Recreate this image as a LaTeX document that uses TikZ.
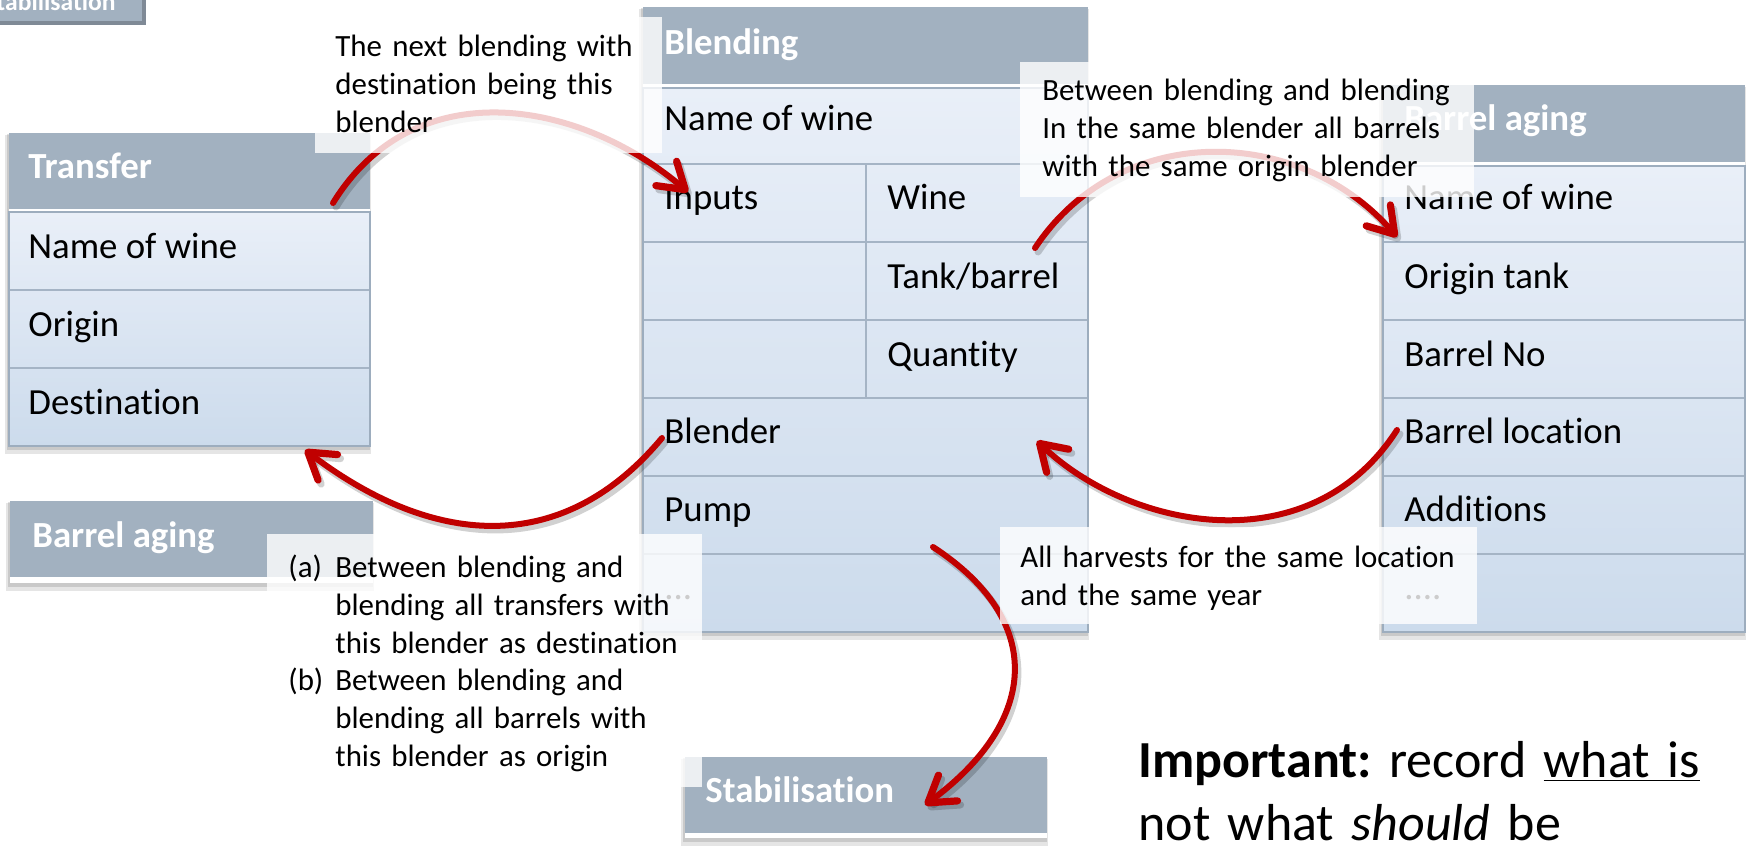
\documentclass[tikz,border=0pt]{standalone}
\usepackage{fontspec}
\setmainfont{Carlito}[Ligatures={NoCommon}]
\usetikzlibrary{arrows.meta}
\definecolor{titlegrey}{HTML}{A2B1C0}
\definecolor{darkedge}{HTML}{7F8A96}
\definecolor{rowtop}{HTML}{E9EFF8}
\definecolor{rowbot}{HTML}{CCDBEC}
\definecolor{gridline}{HTML}{A5B4C5}
\definecolor{boxborder}{HTML}{9DADBE}
\definecolor{arrowred}{HTML}{C00000}
\newcommand\rsArrowPaths[1]{%
  \draw[#1] (a1s) .. controls +(82,-133) and +(-108,-92) .. (a1e);
  \draw[#1] (a2s) .. controls +(-102,122) and +(125,95) .. (a2e);
  \draw[#1] (a3s) .. controls +(85,-128) and +(-97,-112) .. (a3e);
  \draw[#1] (a4s) .. controls +(-87,135) and +(93,89) .. (a4e);
  \draw[#1] (a5s) .. controls +(112,73) and +(115,-85) .. (a5e);
}
\begin{document}
\frenchspacing
\begin{tikzpicture}[x=0.5pt,y=-0.5pt,
  cell/.style={anchor=base west, inner sep=0pt, font=\fontsize{18.4}{22}\selectfont},
  ttl/.style={anchor=base west, inner sep=0pt, text=white, font=\fontsize{18.4}{22}\selectfont\bfseries},
  lbl/.style={anchor=base west, inner sep=0pt, align=left, text width=230pt, font=\fontsize{15.45}{19}\selectfont},
  veil/.style={fill=white, opacity=0.8},
  redarrow/.style={draw=arrowred, line width=3pt, line cap=round,
    -{Straight Barb[length=12.5pt, width=16pt, line width=3.6pt, round]}},
  arrowshadow/.style={draw=black, opacity=0.18, line width=3.5pt, line cap=round,
    -{Straight Barb[length=12.5pt, width=16pt, line width=3.6pt, round]}},
]
\useasboundingbox (0,0) rectangle (1749,850);
\fill[white] (0,0) rectangle (1749,850);

% ---- soft shadows of the boxes
\foreach \a/\b/\c/\d in {10/501/373/583, 685/757/1047/838, 9/133/370/446, 643/7/1088/632, 1383/85/1745/632}{
  \fill[black,opacity=0.10] (\a-4,\b+2) rectangle (\c+1,\d+8);
  \fill[black,opacity=0.12] (\a-2,\b+1) rectangle (\c,\d+4);
}

% ---- top-left cut-off box
\fill[titlegrey] (-20,-20) rectangle (146,25);
\draw[darkedge, line width=2pt] (144,-20) -- (144,23) -- (-20,23);
\node[ttl, anchor=base east, font=\fontsize{12.8}{14}\selectfont\bfseries] (stabtop) at (116,11) {Stabilisation};

% ---- Transfer table
\fill[titlegrey] (9,133) rectangle (370,209);
\fill[white] (9,209) rectangle (370,212);
\shade[top color=rowtop, bottom color=rowbot] (9,212) rectangle (370,446);
\draw[gridline, line width=0.8pt] (9,290) -- (370,290) (9,368) -- (370,368);
\draw[boxborder, line width=0.6pt] (9,212) rectangle (370,446);
\node[ttl]  (trT) at (28,179) {Transfer};
\node[cell] (trN) at (28,258) {Name of wine};
\node[cell] (trO) at (28,336) {Origin};
\node[cell] (trD) at (28,414) {Destination};

% ---- left Barrel aging
\fill[titlegrey] (10,501) rectangle (373,577);
\fill[white] (10,577) rectangle (373,583);
\node[ttl] (baL) at (32,547) {Barrel aging};

% ---- Stabilisation (bottom)
\fill[titlegrey] (685,757) rectangle (1047,833);
\fill[white] (685,833) rectangle (1047,838);
\node[ttl] (stab) at (705,802) {Stabilisation};

% ---- Blending table
\fill[titlegrey] (643,7) rectangle (1088,84);
\fill[white] (643,84) rectangle (1088,88);
\shade[top color=rowtop, bottom color=rowbot] (643,88) rectangle (1088,632);
\draw[gridline, line width=0.8pt] (643,164) -- (1088,164) (643,242) -- (1088,242)
  (643,320) -- (1088,320) (643,398) -- (1088,398) (643,476) -- (1088,476)
  (643,554) -- (1088,554) (866,164) -- (866,398);
\draw[boxborder, line width=0.6pt] (643,88) rectangle (1088,632);
\node[ttl]  (blT) at (664,55)  {Blending};
\node[cell] (blN) at (664,131) {Name of wine};
\node[cell] (blI) at (664,210) {Inputs};
\node[cell] (blW) at (887,210) {Wine};
\node[cell] (blTB) at (887,288) {Tank/barrel};
\node[cell] (blQ) at (887,366) {Quantity};
\node[cell] (blB) at (664,443) {Blender};
\node[cell] (blP) at (664,521) {Pump};
\node[cell] (blD) at (664,599) {...};

% ---- right Barrel aging table
\fill[titlegrey] (1383,85) rectangle (1745,162);
\fill[white] (1383,162) rectangle (1745,166);
\shade[top color=rowtop, bottom color=rowbot] (1383,166) rectangle (1745,632);
\draw[gridline, line width=0.8pt] (1383,242) -- (1745,242) (1383,320) -- (1745,320)
  (1383,398) -- (1745,398) (1383,476) -- (1745,476) (1383,554) -- (1745,554);
\draw[boxborder, line width=0.6pt] (1383,166) rectangle (1745,632);
\node[ttl]  (brT) at (1404,131) {Barrel aging};
\node[cell] (brN) at (1404,210) {Name of wine};
\node[cell] (brO) at (1404,288) {Origin tank};
\node[cell] (brNo) at (1404,366) {Barrel No};
\node[cell] (brL) at (1404,443) {Barrel location};
\node[cell] (brA) at (1404,521) {Additions};
\node[cell] (brD) at (1404,599) {....};

% ---- connector end points
\coordinate (a1s) at (333,203);  \coordinate (a1e) at (688,192);
\coordinate (a2s) at (662,438);  \coordinate (a2e) at (305,450);
\coordinate (a3s) at (1035,248); \coordinate (a3e) at (1397,237);
\coordinate (a4s) at (1397,430); \coordinate (a4e) at (1037,441);
\coordinate (a5s) at (933,547);  \coordinate (a5e) at (925,805);

\begin{scope}[transform canvas={xshift=1.5pt,yshift=-2pt}]
  \rsArrowPaths{arrowshadow}
\end{scope}
\rsArrowPaths{redarrow}

% ---- translucent label boxes
\fill[veil] (315,17) rectangle (662,153);
\fill[veil] (1020,62) rectangle (1474,197);
\fill[veil] (1000,527) rectangle (1477,624);
\fill[veil] (267,534) rectangle (702,787);

\node[lbl] (lab1) at (335,57) {The next blending with\\destination being this\\blender};
\node[lbl] (lab2) at (1042,101) {Between blending and blending\\In the same blender all barrels\\with the same origin blender};
\node[lbl] (lab3) at (1020,567) {All harvests for the same location\\and the same year};
\node[lbl, text width=30pt] (laba) at (288,577) {(a)};
\node[lbl] (labat) at (335,577) {Between blending and\\blending all transfers with\\this blender as destination};
\node[lbl, text width=30pt] (labb) at (288,690) {(b)};
\node[lbl] (labbt) at (335,690) {Between blending and\\blending all barrels with\\this blender as origin};

% ---- note
\node[anchor=base west, inner sep=0pt, align=left, text width=320pt,
  font=\fontsize{26}{31.5}\selectfont] (note) at (1138,777)
  {\textbf{Important:} record \underline{what is}\\not what \textit{should} be};
\end{tikzpicture}
\end{document}
